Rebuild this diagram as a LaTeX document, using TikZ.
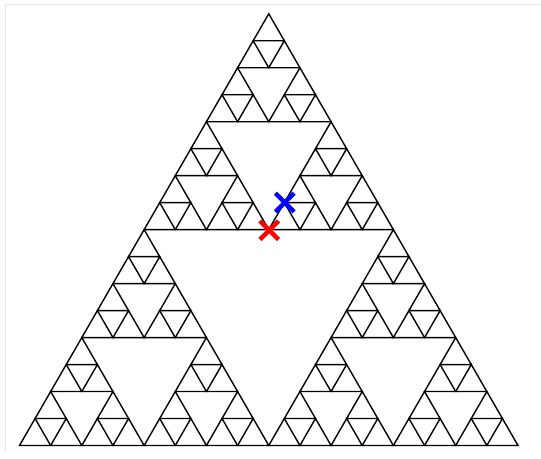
\documentclass[tikz,border=0pt]{standalone}
\usetikzlibrary{calc}
\begin{document}
\begin{tikzpicture}[x=1pt,y=1pt,
  edge/.style={line width=1.4pt,line join=miter,black},
  frame/.style={line width=1pt,draw=black!10},
  crossmark/.style={line width=4.4pt}]
\useasboundingbox (0,0) rectangle (541,458);
\draw[frame] (5,6) -- (5,453) ;
\draw[frame] (5,453) -- (541,453);
\def\L{498.5}
\def\xo{19.5}
\def\yo{12.5}
\foreach \a in {0,1,2}{
 \foreach \b in {0,1,2}{
  \foreach \c in {0,1,2}{
   \foreach \d in {0,1,2}{
    \pgfmathsetmacro\px{\xo+\L*({0,0.5,0.25}[\a]+{0,0.5,0.25}[\b]/2+{0,0.5,0.25}[\c]/4+{0,0.5,0.25}[\d]/8)}
    \pgfmathsetmacro\py{\yo+\L*({0,0,0.4330127}[\a]+{0,0,0.4330127}[\b]/2+{0,0,0.4330127}[\c]/4+{0,0,0.4330127}[\d]/8)}
    \pgfmathsetmacro\s{\L/16}
    \draw[edge] (\px,\py) -- ++(\s,0) -- ++(120:\s) -- cycle;
   }}}}
\coordinate (redc) at (269.2,227.8);
\coordinate (bluec) at (284.8,255.5);
\draw[crossmark,red] ($(redc)+(-9.3,-9.3)$) -- ($(redc)+(9.3,9.3)$);
\draw[crossmark,red] ($(redc)+(-9.3,9.3)$) -- ($(redc)+(9.3,-9.3)$);
\draw[crossmark,blue] ($(bluec)+(-9.3,-9.3)$) -- ($(bluec)+(9.3,9.3)$);
\draw[crossmark,blue] ($(bluec)+(-9.3,9.3)$) -- ($(bluec)+(9.3,-9.3)$);
\end{tikzpicture}
\end{document}
